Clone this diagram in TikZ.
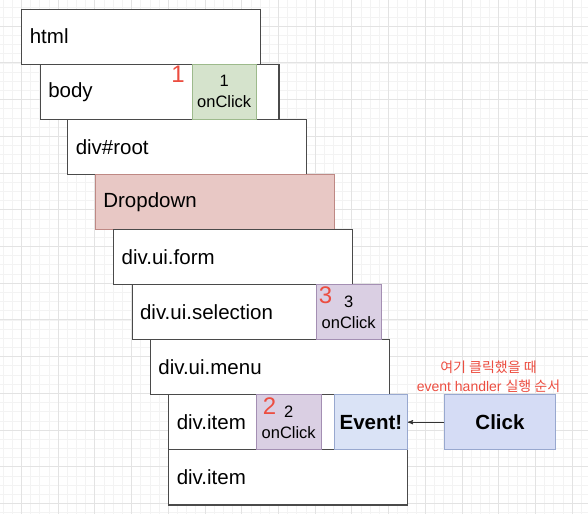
\documentclass[tikz,border=0pt]{standalone}
\usepackage{fontspec}
\setmainfont{Liberation Sans}
\newfontfamily\krfont{Noto Sans CJK KR}
\usetikzlibrary{arrows}

\definecolor{gridminor}{HTML}{F3F3F3}
\definecolor{gridmajor}{HTML}{E3E3E3}
\definecolor{boxline}{HTML}{4A4A4A}
\definecolor{ddfill}{HTML}{E8C8C5}
\definecolor{ddline}{HTML}{BE8884}
\definecolor{greenfill}{HTML}{D5E3CC}
\definecolor{greenline}{HTML}{9DBA8C}
\definecolor{purplefill}{HTML}{DACFE3}
\definecolor{purpleline}{HTML}{A48FB3}
\definecolor{bluefill}{HTML}{DAE3F6}
\definecolor{blueline}{HTML}{98A8CF}
\definecolor{clickfill}{HTML}{D5DCF5}
\definecolor{notered}{HTML}{EC4D40}

\tikzset{
  layer/.style={draw=boxline, fill=white, line width=1.1pt, anchor=north west,
    minimum height=55.1pt, text width=222.7pt, inner xsep=8pt, align=left,
    font=\fontsize{20.5}{24}\selectfont},
  handler/.style={draw=#1line, fill=#1fill, line width=0.9pt, anchor=north west,
    minimum width=64.5pt, minimum height=55.1pt, inner sep=0pt, align=center,
    font=\fontsize{16.5}{21}\selectfont},
  order/.style={text=notered, inner sep=0pt, font=\fontsize{24}{24}\selectfont},
  eventbox/.style={draw=blueline, fill=#1, line width=0.9pt, anchor=north west,
    minimum height=55.1pt, inner sep=0pt, font=\fontsize{20.5}{24}\bfseries}
}

\begin{document}
\begin{tikzpicture}[x=1pt,y=-1pt]
  \useasboundingbox (0,0) rectangle (588,514);
  % background grid
  \foreach \i in {0,...,64}
    \draw[gridminor,line width=0.6pt] (2.94+\i*9.18,0) -- (2.94+\i*9.18,514);
  \foreach \i in {0,...,56}
    \draw[gridminor,line width=0.6pt] (0,7.72+\i*9.18) -- (588,7.72+\i*9.18);
  \foreach \i in {0,...,16}
    \draw[gridmajor,line width=0.8pt] (21.3+\i*36.72,0) -- (21.3+\i*36.72,514);
  \foreach \i in {0,...,14}
    \draw[gridmajor,line width=0.8pt] (0,26.08+\i*36.72) -- (588,26.08+\i*36.72);

  % component tree
  \node[layer] (html) at (21.3,8.5) {html};
  \node[layer] (body) at (39.7,63.6) {body};
  \node[layer] (root) at (67.2,118.7) {div\#root};
  \node[layer,draw=ddline,fill=ddfill] (dropdown) at (94.8,173.8) {Dropdown};
  \node[layer] (form) at (113.1,228.9) {div.ui.form};
  \node[layer] (selection) at (131.5,284) {div.ui.selection};
  \node[layer] (menu) at (149.8,339.1) {div.ui.menu};
  \node[layer] (item) at (168.2,394.2) {div.item};
  \node[layer] (itemtwo) at (168.2,449.3) {div.item};

  % handlers
  \node[handler=green] (onclickone) at (191.5,63.6) {1\\onClick};
  \node[handler=purple] (onclickthree) at (316,284) {3\\onClick};
  \node[handler=purple] (onclicktwo) at (256,394.2) {2\\onClick};
  \node[order] (nrone) at (178,74.5) {1};
  \node[order] (nrthree) at (325.5,295.5) {3};
  \node[order] (nrtwo) at (269.5,406) {2};

  % click
  \node[eventbox=bluefill,minimum width=73pt] (event) at (334,394.2) {Event!};
  \node[eventbox=clickfill,minimum width=111pt] (click) at (444,394.2) {Click};
  \draw[->,>=stealth',line width=0.9pt,black!80] (click) -- (event);
  \node[text=notered,align=center,font=\fontsize{14}{19}\selectfont] (note)
    at (488.5,376.5) {{\krfont 여기 클릭했을 때}\\event handler {\krfont 실행 순서}};
\end{tikzpicture}
\end{document}
